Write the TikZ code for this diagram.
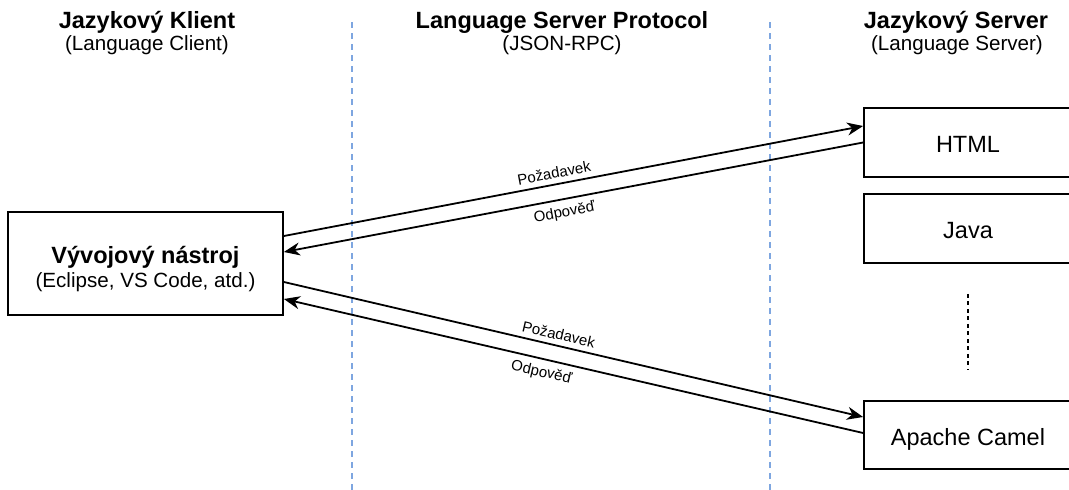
\documentclass[tikz,border=0pt]{standalone}
\usepackage{fontspec}
\setmainfont{Liberation Sans}
\usetikzlibrary{arrows.meta, positioning}
\definecolor{lanecolor}{HTML}{7EA6E0}

\begin{document}
\begin{tikzpicture}[x=1pt, y=-1pt, >={Stealth[length=16pt, width=13pt, inset=5pt]},
  box/.style={draw, line width=1.8pt, inner sep=0pt, align=center},
  server/.style={box, minimum width=208pt, font=\fontsize{23.5}{26}\selectfont, text height=20pt, text depth=0pt},
  head/.style={anchor=base, font=\fontsize{23.5}{26}\selectfont\bfseries},
  subhead/.style={anchor=base, font=\fontsize{20.6}{24}\selectfont},
  msg/.style={->, line width=1.8pt},
  msglabel/.style={sloped, font=\fontsize{15}{17}\selectfont, inner sep=5pt},
  lane/.style={draw=lanecolor, line width=1.3pt, dash pattern=on 6pt off 5pt}]

  \useasboundingbox (0,0) rectangle (1069,490);

  % Headers
  \node[head] (clienthead) at (147,28) {Jazykový Klient};
  \node[subhead] (clientsub) at (147,50) {(Language Client)};

  \node[head] (lsphead) at (562,28) {Language Server Protocol};
  \node[subhead] (lspsub) at (562,50) {(JSON-RPC)};

  \node[head] (serverhead) at (956,28) {Jazykový Server};
  \node[subhead] (serversub) at (957,50) {(Language Server)};

  % Lanes
  \draw[lane] (352,22) -- (352,490);
  \draw[lane] (770,22) -- (770,490);

  % Client
  \node[box, minimum width=275pt, minimum height=103pt] (client) at (145.5,263.5) {};
  \node[head] (tooltitle) at ([yshift=0.5pt]client.center) {Vývojový nástroj};
  \node[subhead] (toolsub) at ([yshift=-23.5pt]client.center) {(Eclipse, VS Code, atd.)};

  % Servers
  \node[server, minimum height=69pt] (html) at (968,142.5) {HTML};
  \node[server, minimum height=69pt] (java) at (968,228.5) {Java};
  \node[server, minimum height=68pt] (camel) at (968,435) {Apache Camel};

  \draw[line width=1.8pt, dash pattern=on 4pt off 3.5pt] ([yshift=-30pt]java.south) -- ([yshift=31pt]camel.north);

  % Requests and responses
  \draw[msg] ([yshift=27.5pt]client.east) -- node[msglabel, above, pos=0.47] {Požadavek} ([yshift=16.5pt]html.west);
  \draw[msg] (html.west) -- node[msglabel, below, pos=0.52, inner sep=6pt] {Odpověď} ([yshift=11.5pt]client.east);

  \draw[msg] ([yshift=-18.5pt]client.east) -- node[msglabel, above, pos=0.47] {Požadavek} ([yshift=18pt]camel.west);
  \draw[msg] ([yshift=2pt]camel.west) -- node[msglabel, below, pos=0.55, inner sep=6pt] {Odpověď} ([yshift=-35.5pt]client.east);

\end{tikzpicture}
\end{document}
